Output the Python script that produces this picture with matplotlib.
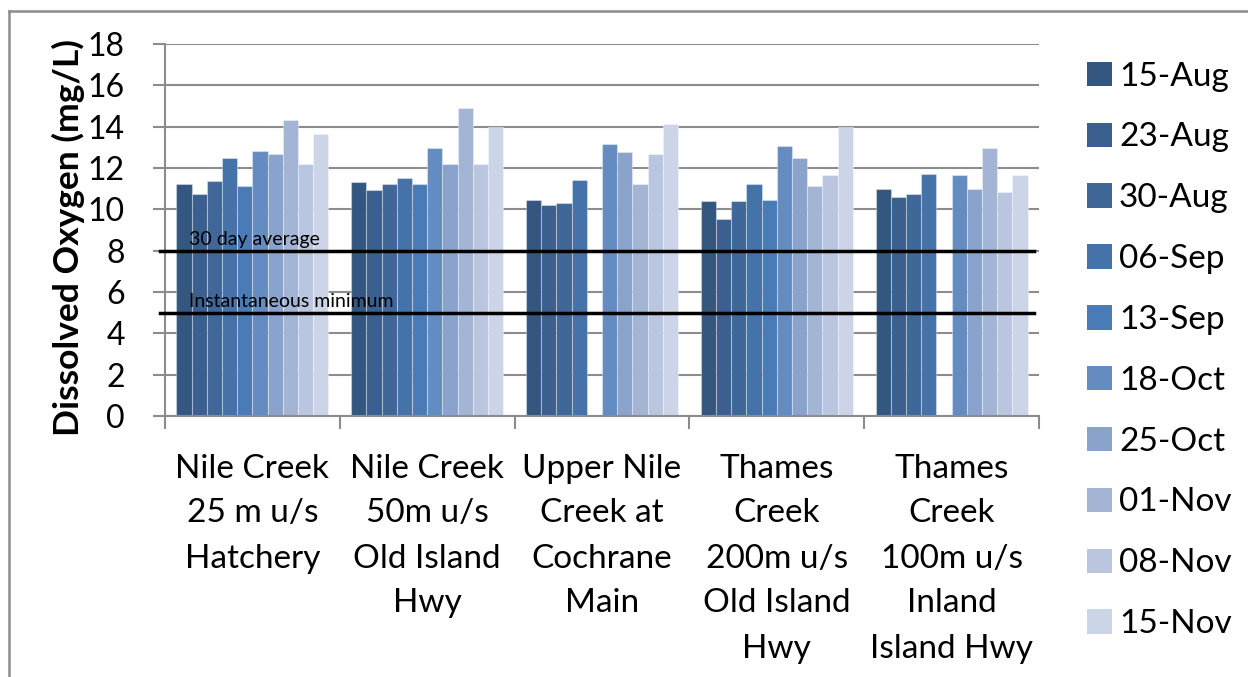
import numpy as np
import matplotlib
matplotlib.use("Agg")
from matplotlib import pyplot as plt
from matplotlib.lines import Line2D
from matplotlib.patches import Patch

plt.rcParams['font.family'] = ['Lato', 'DejaVu Sans']

sites = ["Nile Creek\n25 m u/s\nHatchery",
         "Nile Creek\n50m u/s\nOld Island\nHwy",
         "Upper Nile\nCreek at\nCochrane\nMain",
         "Thames\nCreek\n200m u/s\nOld Island\nHwy",
         "Thames\nCreek\n100m u/s\nInland\nIsland Hwy"]

dates = ["15-Aug", "23-Aug", "30-Aug", "06-Sep", "13-Sep",
         "18-Oct", "25-Oct", "01-Nov", "08-Nov", "15-Nov"]

# dissolved oxygen (mg/L), one row per sampling date, one column per site
do_15aug = [11.25, 11.33, 10.47, 10.38, 10.96]
do_23aug = [10.75, 10.95, 10.20, 9.52, 10.59]
do_30aug = [11.35, 11.23, 10.30, 10.38, 10.76]
do_06sep = [12.50, 11.52, 11.44, 11.25, 11.73]
do_13sep = [11.15, 11.23, np.nan, 10.47, np.nan]
do_18oct = [12.80, 12.95, 13.15, 13.07, 11.64]
do_25oct = [12.70, 12.20, 12.78, 12.49, 10.96]
do_01nov = [14.30, 14.88, 11.25, 11.15, 12.98]
do_08nov = [12.20, 12.20, 12.67, 11.64, 10.86]
do_15nov = [13.65, 14.00, 14.12, 14.00, 11.64]

series = [do_15aug, do_23aug, do_30aug, do_06sep, do_13sep,
          do_18oct, do_25oct, do_01nov, do_08nov, do_15nov]

colors = ["#345780", "#3b5f8f", "#3f6899", "#4572a8", "#4b7bb6",
          "#658cc1", "#8aa3cc", "#a3b4d5", "#bac6df", "#ccd5e7"]

avg_30day = 8.0
inst_min = 5.0

W, H = 1248, 677
fig = plt.figure(figsize=(W / 100, H / 100), dpi=100)
ax = fig.add_axes([165 / W, 1 - 416 / H, (1039 - 165) / W, (416 - 44) / H])

grey = "#8c8c8c"
x = np.arange(len(sites))
n = len(series)
bw = 0.087
for i, (vals, c) in enumerate(zip(series, colors)):
    ax.bar(x + (i - (n - 1) / 2) * bw, vals, bw, color=c,
           edgecolor=(1, 1, 1, 0.35), linewidth=0.8, zorder=2)

# guideline levels
ax.axhline(avg_30day, xmin=-0.006, xmax=0.994, color="black", lw=2.5,
           zorder=4, clip_on=False)
ax.axhline(inst_min, xmin=-0.006, xmax=0.994, color="black", lw=2.5,
           zorder=4, clip_on=False)
ax.text(0.027, avg_30day + 0.12, "30 day average", transform=ax.get_yaxis_transform(),
        fontsize=14, va="bottom", ha="left", zorder=5)
ax.text(0.027, inst_min + 0.12, "Instantaneous minimum", transform=ax.get_yaxis_transform(),
        fontsize=14, va="bottom", ha="left", zorder=5)

ax.set_xlim(-0.5, len(sites) - 0.5)
ax.set_ylim(0, 18)
ax.set_yticks(np.arange(0, 19, 2))
ax.yaxis.grid(True, color=grey, lw=1.5, zorder=0)
ax.set_axisbelow(True)

ax.set_xticks(x)
ax.set_xticklabels(sites, fontsize=24, linespacing=1.625, va="top")
ax.tick_params(axis="x", length=0, pad=27)
ax.set_xticks(np.arange(len(sites) + 1) - 0.5, minor=True)
ax.tick_params(axis="x", which="minor", length=9, width=1.5, color=grey)
ax.tick_params(axis="y", labelsize=23, length=9, width=1.5, color=grey, pad=20)

for s in ["top", "right"]:
    ax.spines[s].set_visible(False)
for s in ["left", "bottom"]:
    ax.spines[s].set_color(grey)
    ax.spines[s].set_linewidth(1.5)

fig.text(68 / W, 1 - 238 / H, "Dissolved Oxygen (mg/L)", rotation=90,
         fontsize=25.5, fontweight="bold", ha="center", va="center")

handles = [Patch(facecolor=c, edgecolor="none") for c in colors]
fig.legend(handles, dates, loc="upper left", bbox_to_anchor=(1070 / W, 1 - 45 / H),
           frameon=False, fontsize=24, handlelength=0.75, handleheight=0.75,
           handletextpad=0.22, labelspacing=0.925, borderpad=0)

# outer chart frame
fig.add_artist(Line2D([9 / W, 9 / W], [0, 1 - 11 / H], color=grey, lw=1.8))
fig.add_artist(Line2D([9 / W, 1], [1 - 11 / H, 1 - 11 / H], color=grey, lw=1.8))

fig.savefig("out.png", dpi=100)
